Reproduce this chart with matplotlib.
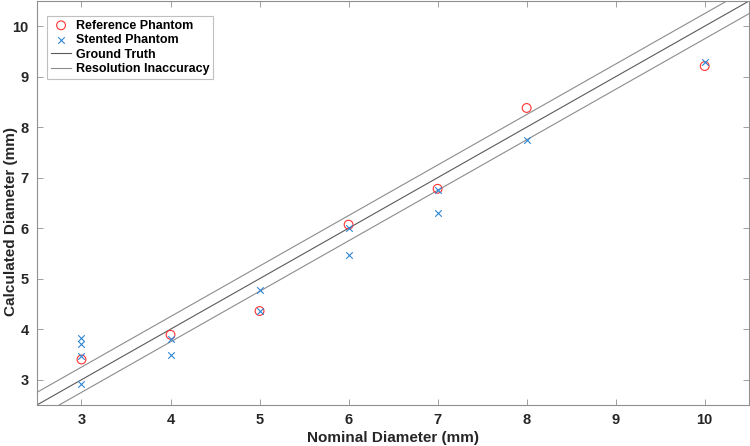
import matplotlib
matplotlib.use("Agg")
import matplotlib.pyplot as plt
import numpy as np

plt.rcParams['font.family'] = ['Liberation Sans', 'DejaVu Sans']

ref_x = [3, 4, 5, 6, 7, 8, 10]
ref_y = [3.40, 3.89, 4.36, 6.07, 6.78, 8.38, 9.21]

stent_x = [3, 3, 3, 3, 4, 4, 5, 5, 6, 6, 7, 7, 8, 10]
stent_y = [3.83, 3.70, 3.47, 2.92, 3.80, 3.48, 4.77, 4.36, 6.00, 5.46, 6.75, 6.31, 7.75, 9.30]

truth_range = [2.5, 10.5]
inaccuracy = 0.25

x_ticks = [3, 4, 5, 6, 7, 8, 9, 10]
y_ticks = [3, 4, 5, 6, 7, 8, 9, 10]

fig = plt.figure(figsize=(7.5, 4.46), dpi=100)
ax = fig.add_axes([0.0493, 0.092, 0.9497, 0.906])

t = np.array(truth_range)
ax.plot(t, t, color='#5a5a5a', lw=0.8, label='Ground Truth', zorder=1)
ax.plot(t, t + inaccuracy, color='#8c8c8c', lw=0.8, label='Resolution Inaccuracy', zorder=1)
ax.plot(t, t - inaccuracy, color='#8c8c8c', lw=0.8, zorder=1)

ax.scatter(ref_x, ref_y, s=40, facecolors='none', edgecolors='#FF3333', linewidths=0.8,
           label='Reference Phantom', zorder=3)
ax.scatter(stent_x, stent_y, s=22, marker='x', color='#2E86D4', linewidths=0.8,
           label='Stented Phantom', zorder=4)

ax.set_xlim(2.5, 10.5)
ax.set_ylim(2.5, 10.5)
ax.set_xticks(x_ticks)
ax.set_yticks(y_ticks)
ax.tick_params(direction='in', length=4, width=0.6, color='#909090',
               top=True, right=True, labelsize=10.5, pad=6)
for lab in ax.get_xticklabels() + ax.get_yticklabels():
    lab.set_fontweight('bold')
    lab.set_color('#262626')
for s in ax.spines.values():
    s.set_color('#909090')
    s.set_linewidth(0.8)

ax.set_xlabel('Nominal Diameter (mm)', fontsize=11, fontweight='bold', color='#262626', labelpad=3)
fig.text(11.5 / 750, 1 - 222 / 446, 'Calculated Diameter (mm)', rotation=90,
         ha='center', va='center', fontsize=11, fontweight='bold', color='#262626')

handles, labels = ax.get_legend_handles_labels()
order = [labels.index(l) for l in ['Reference Phantom', 'Stented Phantom', 'Ground Truth', 'Resolution Inaccuracy']]
leg = ax.legend([handles[i] for i in order], [labels[i] for i in order],
                loc='upper left', bbox_to_anchor=(0.0145, 0.963),
                prop={'weight': 'bold', 'size': 9}, frameon=True, fancybox=False,
                edgecolor='#b0b0b0', handlelength=1.6, handletextpad=0.4,
                borderpad=0.3, labelspacing=0.2, borderaxespad=0)
leg.get_frame().set_linewidth(0.8)

fig.savefig('out.png', dpi=100)
